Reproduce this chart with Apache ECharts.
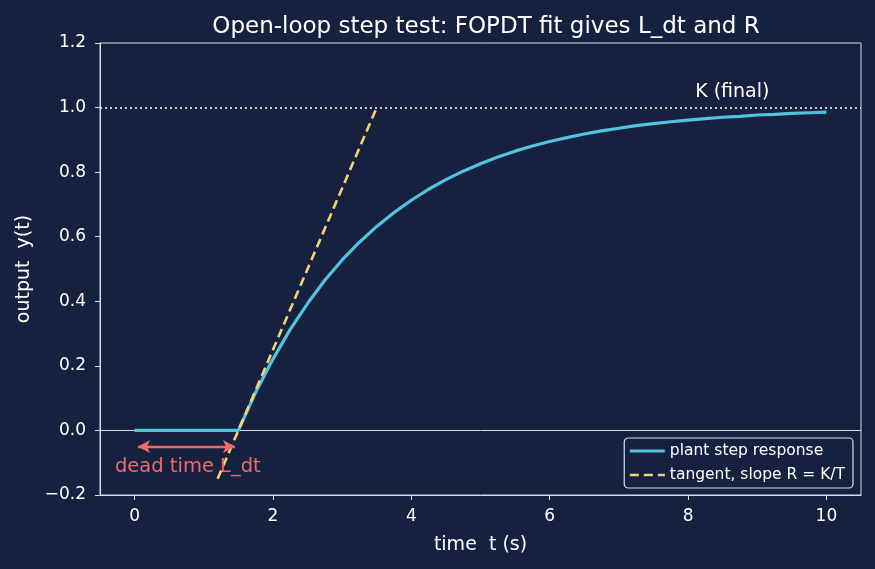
<!DOCTYPE html>
<html lang="en">
<head>
    <meta charset="UTF-8">
    <title>FOPDT step test</title>
    <style>
        html, body { margin: 0; padding: 0; background: #16213f; }
        #chart { width: 875px; height: 569px; }
    </style>
</head>
<body>
    <div id="chart"></div>
</body>
<script src="https://cdn.jsdelivr.net/npm/echarts@6/dist/echarts.min.js"></script>
<script>
    var stepT = [0, 1.5, 1.75, 2, 2.25, 2.5, 2.75, 3, 3.25, 3.5, 3.75, 4, 4.25, 4.5, 4.75, 5, 5.25, 5.5, 5.75, 6,
        6.25, 6.5, 6.75, 7, 7.25, 7.5, 7.75, 8, 8.25, 8.5, 8.75, 9, 9.25, 9.5, 9.75, 10];
    var stepY = [0, 0, 0.118, 0.221, 0.313, 0.393, 0.465, 0.528, 0.583, 0.632, 0.675, 0.713, 0.747, 0.777, 0.803,
        0.826, 0.847, 0.865, 0.881, 0.895, 0.907, 0.918, 0.928, 0.936, 0.944, 0.950, 0.956, 0.961, 0.966,
        0.970, 0.973, 0.977, 0.979, 0.982, 0.984, 0.986];
    var tangentT = [1.2, 3.5];
    var tangentY = [-0.15, 1.0];
    var finalK = 1.0;
    var deadArrowT = [0.05, 1.45];
    var deadArrowY = -0.05;
    var xTicks = [0, 2, 4, 6, 8, 10];

    var textColor = '#ffffff';
    var axisColor = '#d9dce6';
    var blue = '#52c3de';
    var yellow = '#f4d36f';
    var red = '#f06a6a';
    var font = 'DejaVu Sans';

    var chart = echarts.init(document.getElementById('chart'));
    var option = {
        backgroundColor: '#16213f',
        animation: false,
        textStyle: { fontFamily: font },
        title: {
            text: 'Open-loop step test: FOPDT fit gives L_dt and R',
            left: 481, top: 11, textAlign: 'center',
            textStyle: { color: textColor, fontSize: 23, fontWeight: 'normal', fontFamily: font }
        },
        grid: { left: 100, right: 14, top: 43, bottom: 74, show: true, borderColor: axisColor, borderWidth: 1 },
        legend: {
            right: 22, bottom: 81, orient: 'vertical',
            backgroundColor: '#16213f', borderColor: axisColor, borderWidth: 1.2, borderRadius: 4,
            padding: [5, 8, 5, 4], itemGap: 8, itemWidth: 35, itemHeight: 16,
            itemStyle: { opacity: 0 },
            textStyle: { color: textColor, fontSize: 15.5, fontFamily: font },
            data: [
                { name: 'plant step response', lineStyle: { width: 3.2, color: blue } },
                { name: 'tangent, slope R = K/T', lineStyle: { width: 2.6, color: yellow, type: [9, 5] } }
            ]
        },
        xAxis: {
            type: 'value', min: -0.5, max: 10.5,
            name: 'time  t (s)', nameLocation: 'middle', nameGap: 41,
            nameTextStyle: { color: textColor, fontSize: 19 },
            axisLine: { onZero: false, lineStyle: { color: axisColor } },
            axisTick: { customValues: xTicks, length: 5, lineStyle: { color: axisColor } },
            axisLabel: { customValues: xTicks, color: textColor, fontSize: 17, margin: 13 },
            splitLine: { show: false }
        },
        yAxis: {
            type: 'value', min: -0.2, max: 1.2, interval: 0.2,
            name: 'output  y(t)', nameLocation: 'middle', nameGap: 66, nameRotate: 90,
            nameTextStyle: { color: textColor, fontSize: 19 },
            axisLine: { show: true, onZero: false, lineStyle: { color: axisColor } },
            axisTick: { show: true, length: 5, lineStyle: { color: axisColor } },
            axisLabel: {
                color: textColor, fontSize: 17, margin: 14,
                formatter: function (v) { return v.toFixed(1).replace('-', '\u2212'); }
            },
            splitLine: { show: false }
        },
        series: [
            {
                name: 'zero', type: 'line', data: [], silent: true, z: 1,
                markLine: {
                    silent: true, z: 1, symbol: ['none', 'none'], label: { show: false },
                    data: [
                        { yAxis: 0, lineStyle: { color: axisColor, width: 1, type: 'solid' } },
                        { yAxis: finalK, lineStyle: { color: '#ffffff', width: 1.5, type: [2, 3] } }
                    ]
                },
                markPoint: {
                    symbol: 'circle', symbolSize: 0,
                    data: [{ coord: [8.64, 1.048], label: { show: true, formatter: 'K (final)', color: textColor, fontSize: 19 } }]
                }
            },
            {
                name: 'plant step response', type: 'line', symbol: 'none', z: 3,
                data: stepT.map(function (t, i) { return [t, stepY[i]]; }),
                lineStyle: { color: blue, width: 3.2 },
                itemStyle: { color: blue }
            },
            {
                name: 'tangent, slope R = K/T', type: 'line', symbol: 'none', z: 4,
                data: tangentT.map(function (t, i) { return [t, tangentY[i]]; }),
                lineStyle: { color: yellow, width: 2.6, type: [9, 5] },
                itemStyle: { color: yellow }
            },
            {
                name: 'dead', type: 'line', data: [], silent: true,
                markLine: {
                    silent: true, symbol: ['arrow', 'arrow'], symbolSize: [10, 12], label: { show: false },
                    lineStyle: { color: red, width: 2.4, type: 'solid' },
                    data: [[{ coord: [deadArrowT[0], deadArrowY] }, { coord: [deadArrowT[1], deadArrowY] }]]
                },
                markPoint: {
                    symbol: 'circle', symbolSize: 0,
                    data: [{ coord: [0.77, -0.113], label: { show: true, formatter: 'dead time L_dt', color: red, fontSize: 19.5 } }]
                }
            }
        ]
    };
    chart.setOption(option);
</script>
</html>
